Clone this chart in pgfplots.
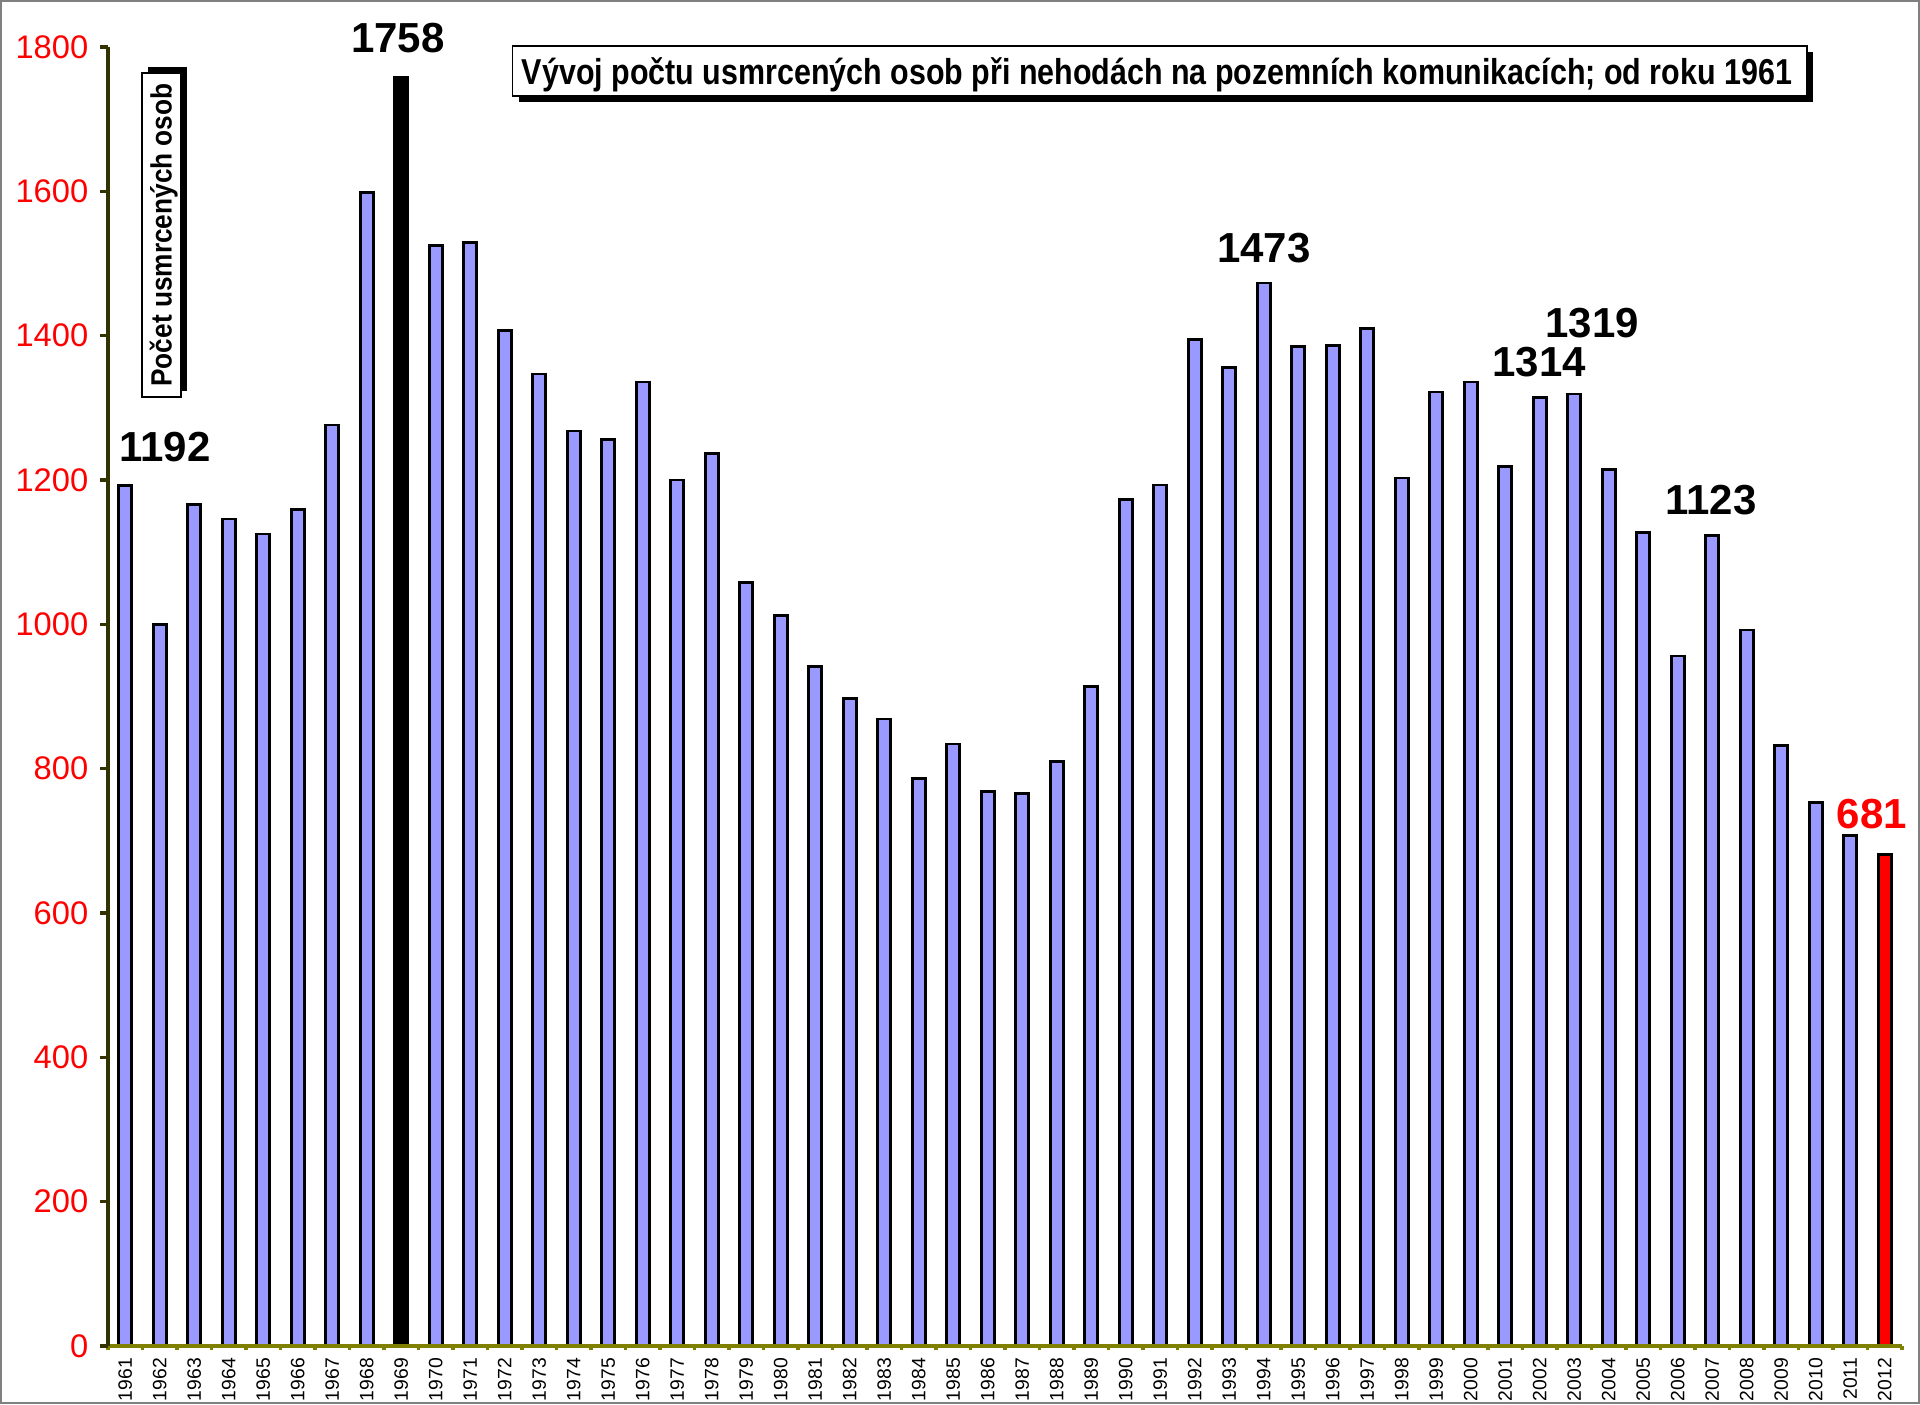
\documentclass[border=0pt]{standalone}
\usepackage{pgfplots}
\pgfplotsset{compat=1.18}
\usepackage{fontspec}
\setmainfont{Liberation Sans}
\usepackage{graphicx}
\definecolor{barblue}{HTML}{9999FF}
\definecolor{xolive}{HTML}{808000}
\definecolor{yolive}{HTML}{333300}
\definecolor{framegray}{HTML}{808080}
\begin{document}
\begin{tikzpicture}
\path[use as bounding box] (-32.4pt,-17.4pt) rectangle (543.6pt,403.8pt);
\draw[framegray, line width=0.5pt] (-32.15pt,-17.15pt) rectangle (543.35pt,403.55pt);
\begin{axis}[
  at={(0pt,0pt)}, anchor=south west,
  scale only axis, width=538.2pt, height=389.7pt,
  xmin=-0.5, xmax=51.5, ymin=0, ymax=1800,
  axis lines*=left,
  axis on top,
  x axis line style={-, draw=xolive, line width=1.4pt},
  y axis line style={-, draw=yolive, line width=1.4pt},
  tick align=outside,
  major tick length=2.4pt,
  minor tick length=1.3pt,
  xtick={0,...,51},
  xticklabels={1961,1962,1963,1964,1965,1966,1967,1968,1969,1970,1971,1972,1973,1974,1975,1976,1977,1978,1979,1980,1981,1982,1983,1984,1985,1986,1987,1988,1989,1990,1991,1992,1993,1994,1995,1996,1997,1998,1999,2000,2001,2002,2003,2004,2005,2006,2007,2008,2009,2010,2011,2012},
  major x tick style={draw=none},
  minor xtick={-0.5,0.5,...,51.5},
  minor x tick style={draw=xolive, line width=1pt},
  ytick={0,200,...,1800},
  y tick style={draw=yolive, line width=1pt},
  xticklabel style={rotate=90, anchor=east, font=\fontsize{5.8}{6.5}\selectfont, inner sep=1pt},
  yticklabel style={red, font=\fontsize{9.8}{11}\selectfont},
  /pgf/number format/1000 sep={},
  /pgf/number format/assume math mode=true,
]
\addplot[ybar, bar width=3.9pt, bar shift=0pt, fill=barblue, draw=black, line width=0.8pt] coordinates {
(0,1192) (1,1000) (2,1166) (3,1146) (4,1125) (5,1159) (6,1276) (7,1598)
(9,1525) (10,1529) (11,1407) (12,1347) (13,1268) (14,1256) (15,1336) (16,1200)
(17,1237) (18,1058) (19,1012) (20,942) (21,897) (22,869) (23,786) (24,834)
(25,768) (26,766) (27,810) (28,914) (29,1173) (30,1193) (31,1395) (32,1356)
(33,1473) (34,1385) (35,1386) (36,1410) (37,1203) (38,1322) (39,1336) (40,1219)
(41,1314) (42,1319) (43,1215) (44,1127) (45,956) (46,1123) (47,992) (48,832)
(49,753) (50,707)
};
\addplot[ybar, bar width=3.9pt, bar shift=0pt, fill=black, draw=black, line width=0.8pt] coordinates {(8,1758)};
\addplot[ybar, bar width=3.9pt, bar shift=0pt, fill=red, draw=black, line width=0.8pt] coordinates {(51,681)};
\end{axis}
% value labels
\begin{scope}[every node/.style={font=\bfseries\fontsize{12.6}{14}\selectfont, anchor=base, inner sep=0pt}]
\node at (17.1pt,265.2pt) {1192};
\node at (87pt,387.9pt) {1758};
\node at (346.8pt,324.9pt) {1473};
\node at (445.2pt,302.4pt) {1319};
\node at (429.3pt,290.7pt) {1314};
\node at (480.9pt,249.3pt) {1123};
\node[text=red] at (529.2pt,155.4pt) {681};
\end{scope}
% title box
\fill[black] (123.2pt,373.2pt) rectangle (511.5pt,388.2pt);
\draw[black, fill=white, line width=0.4pt] (121.4pt,375pt) rectangle (509.7pt,390pt);
\node[anchor=base, inner sep=0pt] at (314.7pt,378.3pt) {\resizebox{381pt}{\height}{\bfseries\fontsize{10.8}{12}\selectfont Vývoj počtu usmrcených osob při nehodách na pozemních komunikacích; od roku 1961}};
% y label box
\fill[black] (12pt,286.5pt) rectangle (23.7pt,383.7pt);
\draw[black, fill=white, line width=0.4pt] (10.2pt,284.7pt) rectangle (21.9pt,381.9pt);
\node[rotate=90, anchor=base, inner sep=0pt] at (19.1pt,333.3pt) {\resizebox{91pt}{\height}{\bfseries\fontsize{8.8}{10}\selectfont Počet usmrcených osob}};
\end{tikzpicture}
\end{document}
